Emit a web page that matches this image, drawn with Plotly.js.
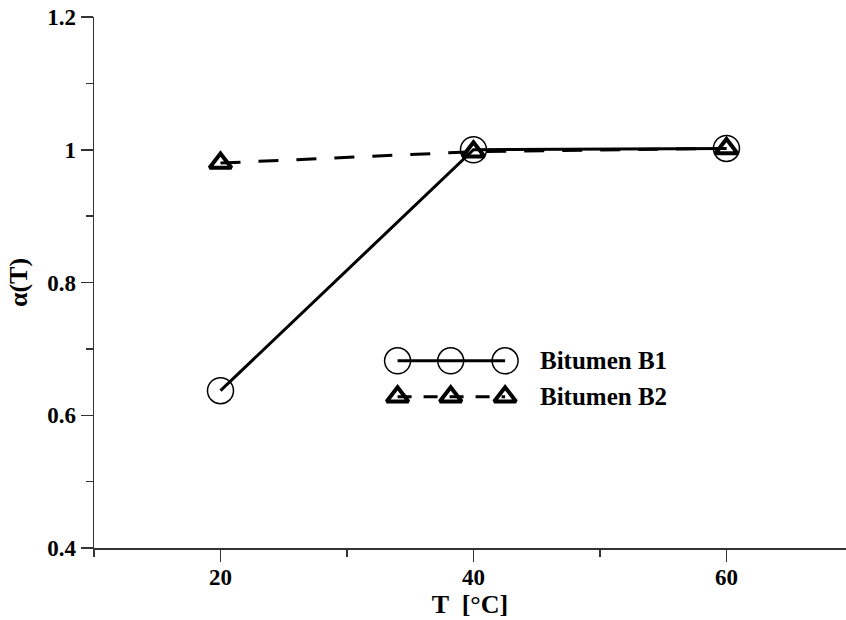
<!DOCTYPE html>
<html>
<head>
<meta charset="utf-8">
<script src="https://cdn.plot.ly/plotly-3.0.1.min.js"></script>
<style>html,body{margin:0;padding:0;background:#fff;}#chart{width:846px;height:620px;}</style>
</head>
<body>
<div id="chart"></div>
<script>
// Data
const temperatures = [20, 40, 60];
const alphaB1 = [0.637, 1.0, 1.002];
const alphaB2 = [0.980, 0.997, 1.002];
const seriesNames = ['Bitumen B1', 'Bitumen B2'];

const fam = 'Liberation Serif, Times New Roman, serif';
const tickFont = {family: fam, size: 23, color: '#000', weight: 'bold'};
const titleFont = {family: fam, size: 26, color: '#000', weight: 'bold'};
const legFont = {family: fam, size: 25, color: '#000', weight: 'bold'};

// legend sample placement (layout, in data units of the main axes)
const legX = [34.0, 38.2, 42.5];
const legY1 = 0.682, legY2 = 0.628;

const triMarker = {symbol: 'triangle-up-open', size: 19, color: '#000', line: {width: 4, color: '#000'}};
const circMarker = {symbol: 'circle-open', size: 26, color: '#000', line: {width: 1.5, color: '#000'}};

const traces = [
  {x: temperatures, y: alphaB1, mode: 'lines+markers', name: seriesNames[0],
   line: {color: '#000', width: 3}, marker: circMarker},
  {x: temperatures, y: alphaB2, mode: 'lines+markers', name: seriesNames[1],
   line: {color: '#000', width: 3, dash: '20px,18px'}, marker: triMarker},
  {x: legX, y: legX.map(() => legY1), mode: 'lines+markers', showlegend: false, hoverinfo: 'skip',
   line: {color: '#000', width: 3}, marker: circMarker},
  {x: legX, y: legX.map(() => legY2), mode: 'lines+markers', showlegend: false, hoverinfo: 'skip',
   line: {color: '#000', width: 3, dash: '14px,12px'}, marker: triMarker}
];

const layout = {
  width: 846, height: 620,
  margin: {l: 94, r: 0, t: 17, b: 72, pad: 0},
  paper_bgcolor: '#fff', plot_bgcolor: '#fff',
  showlegend: false,
  font: tickFont,
  xaxis: {
    range: [10, 69.45], tick0: 20, dtick: 20, ticks: 'outside', ticklen: 12, tickwidth: 1.5,
    tickcolor: '#333', showline: true, linecolor: '#333', linewidth: 1.5, showgrid: false, zeroline: false,
    minor: {tick0: 10, dtick: 20, ticks: 'outside', ticklen: 7, tickwidth: 1.5, tickcolor: '#333', showgrid: false},
    tickfont: tickFont, ticklabelstandoff: -4,
    title: {text: 'T  [°C]', font: titleFont, standoff: 2}
  },
  yaxis: {
    range: [0.4, 1.2], tick0: 0.4, dtick: 0.2, ticks: 'outside', ticklen: 12, tickwidth: 1.5,
    tickcolor: '#333', showline: true, linecolor: '#333', linewidth: 1.5, showgrid: false, zeroline: false,
    minor: {tick0: 0.5, dtick: 0.2, ticks: 'outside', ticklen: 7, tickwidth: 1.5, tickcolor: '#333', showgrid: false},
    tickfont: tickFont, ticklabelstandoff: 0,
    title: {text: 'α(T)', font: titleFont, standoff: 12}
  },
  annotations: [
    {x: 45.1, y: legY1, xref: 'x', yref: 'y', text: seriesNames[0], showarrow: false, xanchor: 'left', yanchor: 'middle', font: legFont},
    {x: 45.1, y: legY2, xref: 'x', yref: 'y', text: seriesNames[1], showarrow: false, xanchor: 'left', yanchor: 'middle', font: legFont}
  ]
};

Plotly.newPlot('chart', traces, layout, {displayModeBar: false, staticPlot: true});
</script>
</body>
</html>
